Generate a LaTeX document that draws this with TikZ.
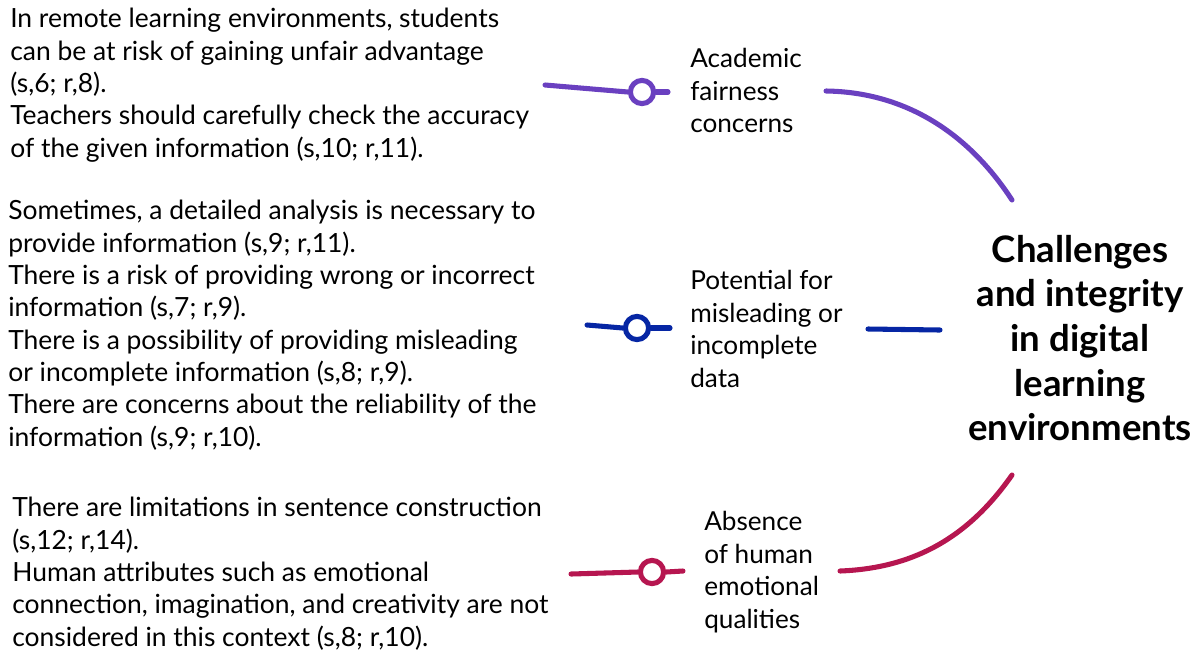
\documentclass[tikz,border=0pt]{standalone}
\usepackage{fontspec}
\setmainfont{Lato}
\usepackage{tikz}
\usetikzlibrary{positioning, calc}

\definecolor{fairPurple}{RGB}{106, 64, 192}
\definecolor{dataBlue}{RGB}{6, 38, 164}
\definecolor{humanRed}{RGB}{182, 22, 80}

\begin{document}
\begin{tikzpicture}[
    x=0.025cm, y=-0.025cm,
    evidence/.style={anchor=north west, align=left, inner sep=0pt,
                     font=\fontsize{18.8}{23}\selectfont},
    theme/.style={anchor=north west, align=left, inner sep=0pt,
                  font=\fontsize{18.6}{23.2}\selectfont},
    core/.style={align=center, inner sep=0pt,
                 font=\fontsize{26}{31.8}\selectfont\bfseries},
    knob/.style={circle, draw=#1, fill=white, line width=3.6pt,
                 minimum size=0.58cm, inner sep=0pt},
    link/.style={line width=3.6pt, line cap=round, #1},
  ]
    \useasboundingbox (0,0) rectangle (1201,654);

    % Central theme
    \node[core] (CORE) at (1080,338)
         {Challenges\\and integrity\\in digital\\learning\\environments};

    % Academic fairness
    \node[evidence] (FAIRTXT) at (10,8)
         {In remote learning environments, students\\
          can be at risk of gaining unfair advantage\\
          (s,6; r,8).\\
          Teachers should carefully check the accuracy\\
          of the given information (s,10; r,11).};
    \node[theme] (FAIR) at (690,48)
         {Academic\\fairness\\concerns};
    \node[knob=fairPurple] (FAIRKNOB) at (642,92) {};
    \coordinate (FAIRIN) at (545,85);
    \coordinate (FAIROUT) at (668,92);
    \coordinate (FAIRSTART) at (826,91);
    \coordinate (FAIREND) at (1012,200);

    % Misleading data
    \node[evidence] (DATATXT) at (8,200)
         {Sometimes, a detailed analysis is necessary to\\
          provide information (s,9; r,11).\\
          There is a risk of providing wrong or incorrect\\
          information (s,7; r,9).\\
          There is a possibility of providing misleading\\
          or incomplete information (s,8; r,9).\\
          There are concerns about the reliability of the\\
          information (s,9; r,10).};
    \node[theme] (DATA) at (690,270)
         {Potential for\\misleading or\\incomplete\\data};
    \node[knob=dataBlue] (DATAKNOB) at (637,328) {};
    \coordinate (DATAIN) at (587,325);
    \coordinate (DATAOUT) at (670,328);
    \coordinate (DATASTART) at (868,329);
    \coordinate (DATAEND) at (940,330);

    % Human qualities
    \node[evidence] (HUMTXT) at (12,497)
         {There are limitations in sentence construction\\
          (s,12; r,14).\\
          Human attributes such as emotional\\
          connection, imagination, and creativity are not\\
          considered in this context (s,8; r,10).};
    \node[theme] (HUM) at (704,511)
         {Absence\\of human\\emotional\\qualities};
    \node[knob=humanRed] (HUMKNOB) at (652,572) {};
    \coordinate (HUMIN) at (571,574);
    \coordinate (HUMOUT) at (683,571);
    \coordinate (HUMSTART) at (840,571);
    \coordinate (HUMEND) at (1012,475);

    % connectors
    \draw[link=fairPurple] (FAIRIN) -- (FAIRKNOB.west);
    \draw[link=fairPurple] (FAIRKNOB.east) -- (FAIROUT);
    \draw[link=fairPurple] (FAIRSTART) .. controls (900,92) and (965,128) .. (FAIREND);

    \draw[link=dataBlue] (DATAIN) -- (DATAKNOB.west);
    \draw[link=dataBlue] (DATAKNOB.east) -- (DATAOUT);
    \draw[link=dataBlue] (DATASTART) -- (DATAEND);

    \draw[link=humanRed] (HUMIN) -- (HUMKNOB.west);
    \draw[link=humanRed] (HUMKNOB.east) -- (HUMOUT);
    \draw[link=humanRed] (HUMSTART) .. controls (920,568) and (972,532) .. (HUMEND);
  \end{tikzpicture}
\end{document}
